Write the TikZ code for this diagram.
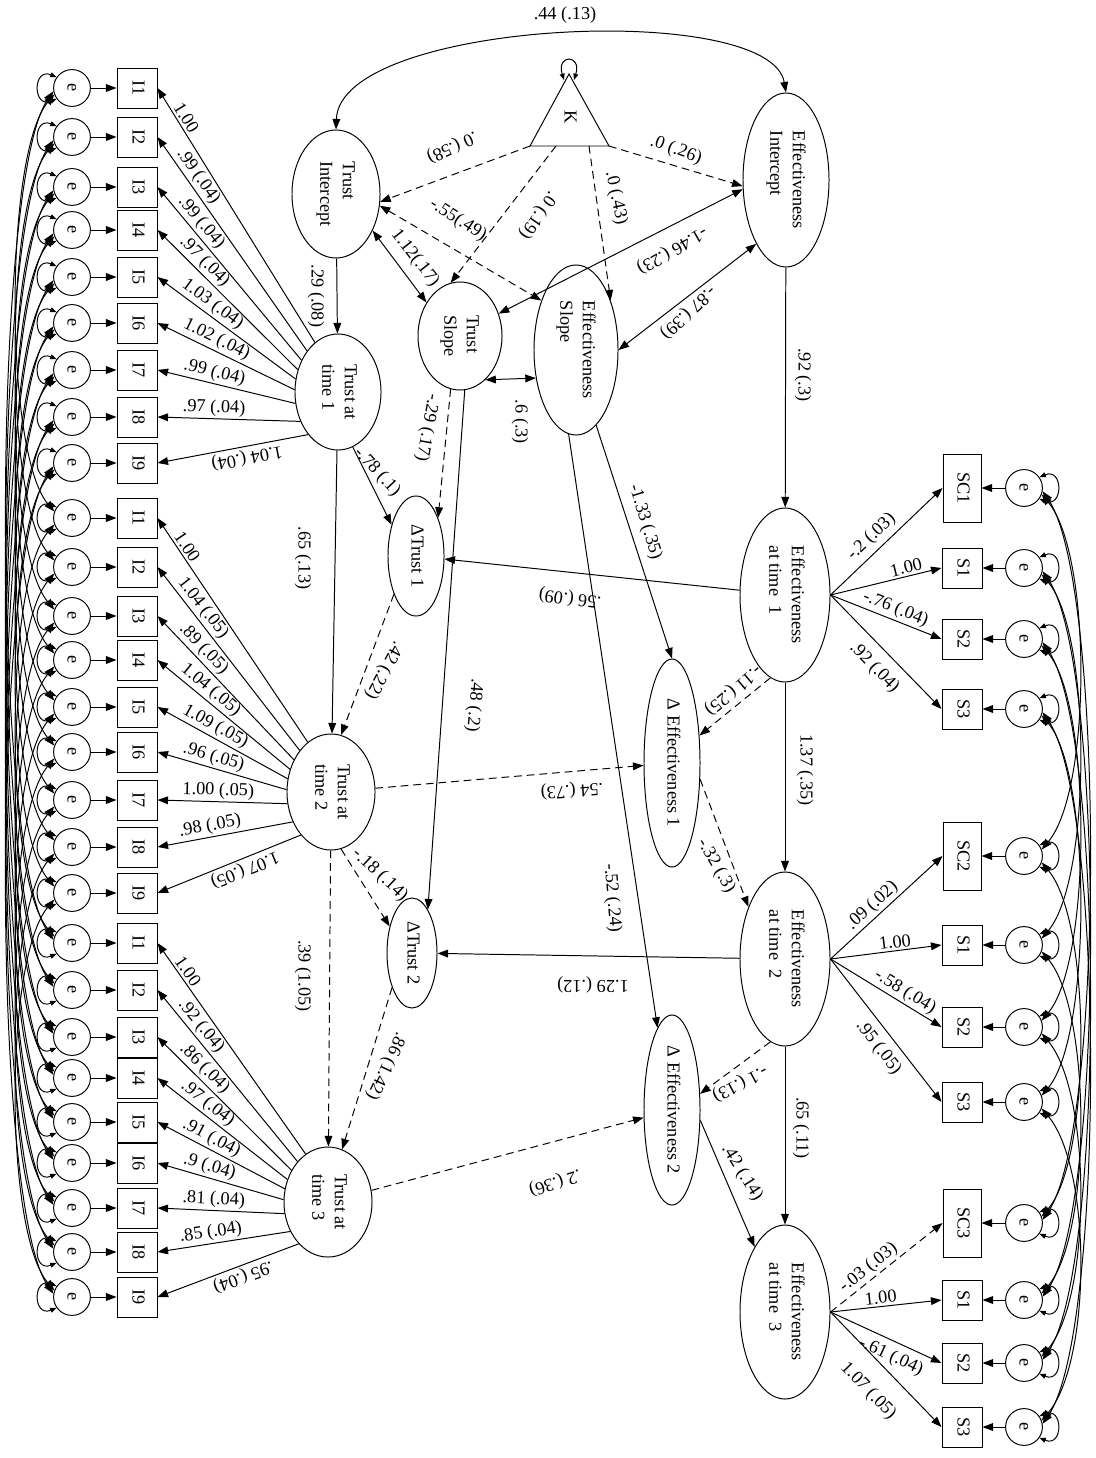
\documentclass[tikz,border=0pt]{standalone}
\usepackage{fontspec}
\setmainfont{Liberation Serif}
\usepackage{graphicx}
\usetikzlibrary{shapes.geometric,arrows.meta}
\newcommand{\dgf}{\fontsize{13}{16}\selectfont}
\newcommand{\rt}[1]{\rotatebox{-90}{\begin{tabular}{@{}l@{}}#1\end{tabular}}}

\begin{document}
\begin{tikzpicture}[x=0.025cm, y=-0.025cm, font=\dgf, line width=0.7pt,
  >={Triangle[length=7.5pt,width=5.5pt]},
  lat/.style={draw, ellipse, inner sep=0pt},
  obs/.style={draw, rectangle, inner sep=0pt, minimum width=1cm, minimum height=1cm},
  err/.style={draw, circle, inner sep=0pt, minimum size=0.92cm},
  lbl/.style={inner sep=1.5pt},
  dsh/.style={dash pattern=on 5.5pt off 3.5pt},
  loopy/.style={>={Triangle[length=4.5pt,width=3.5pt]}, <->}]
  \useasboundingbox (0,0) rectangle (1096,1458);

  % latent variables
  \node[lat, minimum width=2.2cm, minimum height=3.2cm] (ti) at (336,194) {\rt{Trust\\Intercept}};
  \node[lat, minimum width=2.15cm, minimum height=2.9cm] (t1) at (338,392) {\rt{Trust at\\time 1}};
  \node[lat, minimum width=2.2cm, minimum height=2.9cm] (t2) at (331,792) {\rt{Trust at\\time 2}};
  \node[lat, minimum width=2.2cm, minimum height=2.75cm] (t3) at (328,1202) {\rt{Trust at\\time 3}};
  \node[lat, minimum width=2.1cm, minimum height=2.7cm] (ts) at (460,336) {\rt{Trust\\Slope}};
  \node[lat, minimum width=2.1cm, minimum height=4.25cm] (es) at (576,350) {\rt{Effectiveness\\Slope}};
  \node[lat, minimum width=2.15cm, minimum height=4.35cm] (ei) at (786,180) {\rt{Effectiveness\\Intercept}};
  \node[lat, minimum width=2.25cm, minimum height=4.35cm] (f1) at (785,595) {\rt{Effectiveness\\at time~ 1}};
  \node[lat, minimum width=2.25cm, minimum height=4.35cm] (f2) at (785,959) {\rt{Effectiveness\\at time~ 2}};
  \node[lat, minimum width=2.25cm, minimum height=4.35cm] (f3) at (785,1312) {\rt{Effectiveness\\at time~ 3}};
  \node[lat, minimum width=1.4cm, minimum height=3cm] (dt1) at (416,556) {\rt{ΔTrust 1}};
  \node[lat, minimum width=1.25cm, minimum height=2.75cm] (dt2) at (412,953) {\rt{ΔTrust 2}};
  \node[lat, minimum width=1.4cm, minimum height=5.2cm] (de1) at (672,763) {\rt{Δ Effectiveness 1}};
  \node[lat, minimum width=1.4cm, minimum height=4.75cm] (de2) at (672,1110) {\rt{Δ Effectiveness 2}};

  % constant
  \coordinate (ka) at (569,74); \coordinate (kl) at (530,146); \coordinate (kr) at (609,146);
  \coordinate (kb1) at (556,146); \coordinate (kb2) at (589,146);
  \coordinate (ka1) at (564,80); \coordinate (ka2) at (574,80);
  \draw (ka) -- (kl) -- (kr) -- cycle; \node (k) at (569,117) {\rt{K}};
  \draw[loopy] (ka1) .. controls (556,54) and (582,54) .. (ka2);

  % trust items
  \node[err] (e11) at (72,88) {\rt{e}}; \node[obs] (i11) at (137,88) {\rt{I1}};
  \node[err] (e12) at (72,137) {\rt{e}}; \node[obs] (i12) at (137,137) {\rt{I2}};
  \node[err] (e13) at (72,187) {\rt{e}}; \node[obs] (i13) at (137,187) {\rt{I3}};
  \node[err] (e14) at (72,230) {\rt{e}}; \node[obs] (i14) at (137,230) {\rt{I4}};
  \node[err] (e15) at (72,277) {\rt{e}}; \node[obs] (i15) at (137,277) {\rt{I5}};
  \node[err] (e16) at (72,323) {\rt{e}}; \node[obs] (i16) at (137,323) {\rt{I6}};
  \node[err] (e17) at (72,370) {\rt{e}}; \node[obs] (i17) at (137,370) {\rt{I7}};
  \node[err] (e18) at (72,417) {\rt{e}}; \node[obs] (i18) at (137,417) {\rt{I8}};
  \node[err] (e19) at (72,463) {\rt{e}}; \node[obs] (i19) at (137,463) {\rt{I9}};
  \node[err] (e21) at (72,518) {\rt{e}}; \node[obs] (i21) at (137,518) {\rt{I1}};
  \node[err] (e22) at (72,567) {\rt{e}}; \node[obs] (i22) at (137,567) {\rt{I2}};
  \node[err] (e23) at (72,616) {\rt{e}}; \node[obs] (i23) at (137,616) {\rt{I3}};
  \node[err] (e24) at (72,660) {\rt{e}}; \node[obs] (i24) at (137,660) {\rt{I4}};
  \node[err] (e25) at (72,707) {\rt{e}}; \node[obs] (i25) at (137,707) {\rt{I5}};
  \node[err] (e26) at (72,752) {\rt{e}}; \node[obs] (i26) at (137,752) {\rt{I6}};
  \node[err] (e27) at (72,800) {\rt{e}}; \node[obs] (i27) at (137,800) {\rt{I7}};
  \node[err] (e28) at (72,847) {\rt{e}}; \node[obs] (i28) at (137,847) {\rt{I8}};
  \node[err] (e29) at (72,893) {\rt{e}}; \node[obs] (i29) at (137,893) {\rt{I9}};
  \node[err] (e31) at (72,943) {\rt{e}}; \node[obs] (i31) at (137,943) {\rt{I1}};
  \node[err] (e32) at (72,990) {\rt{e}}; \node[obs] (i32) at (137,990) {\rt{I2}};
  \node[err] (e33) at (72,1037) {\rt{e}}; \node[obs] (i33) at (137,1037) {\rt{I3}};
  \node[err] (e34) at (72,1078) {\rt{e}}; \node[obs] (i34) at (137,1078) {\rt{I4}};
  \node[err] (e35) at (72,1122) {\rt{e}}; \node[obs] (i35) at (137,1122) {\rt{I5}};
  \node[err] (e36) at (72,1163) {\rt{e}}; \node[obs] (i36) at (137,1163) {\rt{I6}};
  \node[err] (e37) at (72,1208) {\rt{e}}; \node[obs] (i37) at (137,1208) {\rt{I7}};
  \node[err] (e38) at (72,1252) {\rt{e}}; \node[obs] (i38) at (137,1252) {\rt{I8}};
  \node[err] (e39) at (72,1297) {\rt{e}}; \node[obs] (i39) at (137,1297) {\rt{I9}};

  % effectiveness items
  \node[obs, minimum width=0.95cm, minimum height=1.7cm] (sc1) at (962,488) {\rt{SC1}}; \node[err] (esc1) at (1024,488) {\rt{e}};
  \node[obs] (s11) at (962,568) {\rt{S1}}; \node[err] (es11) at (1024,568) {\rt{e}};
  \node[obs] (s12) at (962,639) {\rt{S2}}; \node[err] (es12) at (1024,639) {\rt{e}};
  \node[obs] (s13) at (962,709) {\rt{S3}}; \node[err] (es13) at (1024,709) {\rt{e}};
  \node[obs, minimum width=0.95cm, minimum height=1.7cm] (sc2) at (962,856) {\rt{SC2}}; \node[err] (esc2) at (1024,856) {\rt{e}};
  \node[obs] (s21) at (962,945) {\rt{S1}}; \node[err] (es21) at (1024,945) {\rt{e}};
  \node[obs] (s22) at (962,1027) {\rt{S2}}; \node[err] (es22) at (1024,1027) {\rt{e}};
  \node[obs] (s23) at (962,1102) {\rt{S3}}; \node[err] (es23) at (1024,1102) {\rt{e}};
  \node[obs, minimum width=0.95cm, minimum height=1.7cm] (sc3) at (962,1223) {\rt{SC3}}; \node[err] (esc3) at (1024,1223) {\rt{e}};
  \node[obs] (s31) at (962,1300) {\rt{S1}}; \node[err] (es31) at (1024,1300) {\rt{e}};
  \node[obs] (s32) at (962,1363) {\rt{S2}}; \node[err] (es32) at (1024,1363) {\rt{e}};
  \node[obs] (s33) at (962,1427) {\rt{S3}}; \node[err] (es33) at (1024,1427) {\rt{e}};

  % residuals into items
  \draw[->] (e11) -- (i11); \draw[->] (e12) -- (i12); \draw[->] (e13) -- (i13); \draw[->] (e14) -- (i14); \draw[->] (e15) -- (i15);
  \draw[->] (e16) -- (i16); \draw[->] (e17) -- (i17); \draw[->] (e18) -- (i18); \draw[->] (e19) -- (i19);
  \draw[->] (e21) -- (i21); \draw[->] (e22) -- (i22); \draw[->] (e23) -- (i23); \draw[->] (e24) -- (i24); \draw[->] (e25) -- (i25);
  \draw[->] (e26) -- (i26); \draw[->] (e27) -- (i27); \draw[->] (e28) -- (i28); \draw[->] (e29) -- (i29);
  \draw[->] (e31) -- (i31); \draw[->] (e32) -- (i32); \draw[->] (e33) -- (i33); \draw[->] (e34) -- (i34); \draw[->] (e35) -- (i35);
  \draw[->] (e36) -- (i36); \draw[->] (e37) -- (i37); \draw[->] (e38) -- (i38); \draw[->] (e39) -- (i39);
  \draw[->] (esc1) -- (sc1); \draw[->] (es11) -- (s11); \draw[->] (es12) -- (s12); \draw[->] (es13) -- (s13);
  \draw[->] (esc2) -- (sc2); \draw[->] (es21) -- (s21); \draw[->] (es22) -- (s22); \draw[->] (es23) -- (s23);
  \draw[->] (esc3) -- (sc3); \draw[->] (es31) -- (s31); \draw[->] (es32) -- (s32); \draw[->] (es33) -- (s33);

  % loadings, trust at time 1
  \draw[<-] (i11.east) -- node[lbl, sloped, pos=.073, anchor=south west] (a11) {1.00} (t1.115);
  \draw[<-] (i12.east) -- node[lbl, sloped, pos=.084, anchor=south west] (a12) {.99 (.04)} (t1.127);
  \draw[<-] (i13.east) -- node[lbl, sloped, pos=.097, anchor=south west] (a13) {.99 (.04)} (t1.139);
  \draw[<-] (i14.east) -- node[lbl, sloped, pos=.111, anchor=south west] (a14) {.97 (.04)} (t1.151);
  \draw[<-] (i15.east) -- node[lbl, sloped, pos=.128, anchor=south west] (a15) {1.03 (.04)} (t1.163);
  \draw[<-] (i16.east) -- node[lbl, sloped, pos=.145, anchor=south west] (a16) {1.02 (.04)} (t1.177);
  \draw[<-] (i17.east) -- node[lbl, sloped, pos=.157, anchor=south west] (a17) {.99 (.04)} (t1.195);
  \draw[<-] (i18.east) -- node[lbl, sloped, pos=.157, anchor=south west] (a18) {.97 (.04)} (t1.218);
  \draw[->] (t1.235) -- node[lbl, sloped, allow upside down, pos=.42, above] (a19) {1.04 (.04)} (i19.east);
  % loadings, trust at time 2
  \draw[<-] (i21.east) -- node[lbl, sloped, pos=.081, anchor=south west] (a21) {1.00} (t2.115);
  \draw[<-] (i22.east) -- node[lbl, sloped, pos=.094, anchor=south west] (a22) {1.04 (.05)} (t2.127);
  \draw[<-] (i23.east) -- node[lbl, sloped, pos=.11, anchor=south west] (a23) {.89 (.05)} (t2.139);
  \draw[<-] (i24.east) -- node[lbl, sloped, pos=.126, anchor=south west] (a24) {1.04 (.05)} (t2.151);
  \draw[<-] (i25.east) -- node[lbl, sloped, pos=.146, anchor=south west] (a25) {1.09 (.05)} (t2.163);
  \draw[<-] (i26.east) -- node[lbl, sloped, pos=.16, anchor=south west] (a26) {.96 (.05)} (t2.177);
  \draw[<-] (i27.east) -- node[lbl, sloped, pos=.17, anchor=south west] (a27) {1.00 (.05)} (t2.195);
  \draw[<-] (i28.east) -- node[lbl, sloped, pos=.158, anchor=south west] (a28) {.98 (.05)} (t2.218);
  \draw[->] (t2.235) -- node[lbl, sloped, allow upside down, pos=.42, above] (a29) {1.07 (.05)} (i29.east);
  % loadings, trust at time 3
  \draw[<-] (i31.east) -- node[lbl, sloped, pos=.085, anchor=south west] (a31) {1.00} (t3.115);
  \draw[<-] (i32.east) -- node[lbl, sloped, pos=.099, anchor=south west] (a32) {.92 (.04)} (t3.127);
  \draw[<-] (i33.east) -- node[lbl, sloped, pos=.115, anchor=south west] (a33) {.86 (.04)} (t3.139);
  \draw[<-] (i34.east) -- node[lbl, sloped, pos=.13, anchor=south west] (a34) {.97 (.04)} (t3.151);
  \draw[<-] (i35.east) -- node[lbl, sloped, pos=.15, anchor=south west] (a35) {.91 (.04)} (t3.163);
  \draw[<-] (i36.east) -- node[lbl, sloped, pos=.167, anchor=south west] (a36) {.9 (.04)} (t3.177);
  \draw[<-] (i37.east) -- node[lbl, sloped, pos=.173, anchor=south west] (a37) {.81 (.04)} (t3.195);
  \draw[<-] (i38.east) -- node[lbl, sloped, pos=.163, anchor=south west] (a38) {.85 (.04)} (t3.218);
  \draw[->] (t3.235) -- node[lbl, sloped, allow upside down, pos=.42, above] (a39) {.95 (.04)} (i39.east);

  % loadings, effectiveness
  \draw[->] (f1.east) -- node[lbl, sloped, pos=.45, above=2pt] (b10) {-.2 (.03)} (sc1.west);
  \draw[->] (f1.east) -- node[lbl, sloped, pos=.7, above] (b11) {1.00} (s11.west);
  \draw[->] (f1.east) -- node[lbl, sloped, pos=.55, above] (b12) {-.76 (.04)} (s12.west);
  \draw[->] (f1.east) -- node[lbl, sloped, pos=.52, below=6pt] (b13) {.92 (.04)} (s13.west);
  \draw[->] (f2.east) -- node[lbl, sloped, pos=.44, above] (b20) {.09 (.02)} (sc2.west);
  \draw[->] (f2.east) -- node[lbl, sloped, pos=.59, above] (b21) {1.00} (s21.west);
  \draw[->] (f2.east) -- node[lbl, sloped, pos=.62, above] (b22) {-.58 (.04)} (s22.west);
  \draw[->] (f2.east) -- node[lbl, sloped, pos=.55, below=4pt] (b23) {.95 (.05)} (s23.west);
  \draw[->, dsh] (f3.east) -- node[lbl, sloped, pos=.4, above] (b30) {-.03 (.03)} (sc3.west);
  \draw[->] (f3.east) -- node[lbl, sloped, pos=.46, above] (b31) {1.00} (s31.west);
  \draw[->] (f3.east) -- node[lbl, sloped, pos=.6, below=3pt] (b32) {-.61 (.04)} (s32.west);
  \draw[->] (f3.east) -- node[lbl, sloped, pos=.52, below=12pt] (b33) {1.07 (.05)} (s33.west);

  % structural paths
  \draw[->] (ti) -- (t1); \draw[->] (t1) -- (t2); \draw[->, dsh] (t2) -- (t3);
  \draw[->] (ei) -- (f1); \draw[->] (f1) -- (f2); \draw[->] (f2) -- (f3);
  \draw[->] (t1.-75) -- (dt1.128);
  \draw[->, dsh] (ts.-100) -- (dt1.60);
  \draw[->] (ts.-85) -- (dt2.70);
  \draw[->, dsh] (dt1.-120) -- (t2.80);
  \draw[->, dsh] (t2.-80) -- (dt2.130);
  \draw[->, dsh] (dt2.-120) -- (t3.75);
  \draw[->] (f1) -- (dt1); \draw[->] (f2) -- (dt2);
  \draw[->, dsh] (t2) -- (de1); \draw[->, dsh] (t3) -- (de2);
  \draw[->, dsh] (f1.-100) -- (de1.45);
  \draw[->, dsh] (de1.-30) -- (f2.125);
  \draw[->, dsh] (f2.-100) -- (de2.30);
  \draw[->] (de2.-20) -- (f3.115);
  \draw[->] (es.-75) -- (de1.north);
  \draw[->] (es.-95) -- (de2.100);
  \draw[->, dsh] (kl) -- (ti.-10);
  \draw[->, dsh] (kb1) -- (ts.100);
  \draw[->, dsh] (kb2) -- (es.55);
  \draw[->, dsh] (kr) -- (ei.188);
  % covariances of growth factors
  \draw[<->, dsh] (ti.-15) -- (es.125);
  \draw[<->] (ti.-45) -- (ts.135);
  \draw[<->] (ei.192) -- (ts.30);
  \draw[<->] (ei.245) -- (es.0);
  \draw[<->] (ts.-60) -- (es.215);
  \draw[<->] (ti.north) .. controls (340,20) and (770,0) .. (ei.north);

  % path labels
  \node[lbl] (l0) at (565,15) {.44 (.13)};
  \node[lbl, rotate=-155] (l1) at (452,147) {.0 (.58)};
  \node[lbl, rotate=-125] (l2) at (538,215) {.0 (.19)};
  \node[lbl, rotate=-78] (l3) at (616,198) {.0 (.43)};
  \node[lbl, rotate=-20] (l4) at (676,150) {.0 (.26)};
  \node[lbl, rotate=-33] (l5) at (458,220) {-.55(.49)};
  \node[lbl, rotate=-52] (l6) at (415,258) {1.12(.17)};
  \node[lbl, rotate=-150] (l7) at (672,250) {-1.46 (.23)};
  \node[lbl, rotate=-137] (l8) at (688,312) {-.87 (.39)};
  \node[lbl, rotate=-90] (l9) at (520,422) {.6 (.3)};
  \node[lbl, rotate=-90] (l10) at (316,296) {.29 (.08)};
  \node[lbl, rotate=-90] (l11) at (303,558) {.65 (.13)};
  \node[lbl, rotate=-90] (l12) at (303,976) {.39 (1.05)};
  \node[lbl, rotate=-90] (l13) at (803,375) {.92 (.3)};
  \node[lbl, rotate=-90] (l14) at (805,770) {1.37 (.35)};
  \node[lbl, rotate=-90] (l15) at (801,1128) {.65 (.11)};
  \node[lbl, rotate=-47] (l16) at (377,472) {-.78 (.1)};
  \node[lbl, rotate=-100] (l17) at (427,428) {-.29 (.17)};
  \node[lbl, rotate=-95] (l18) at (474,705) {.48 (.2)};
  \node[lbl, rotate=-118] (l19) at (384,670) {.42 (.22)};
  \node[lbl, rotate=-43] (l20) at (380,875) {-.18 (.14)};
  \node[lbl, rotate=-115] (l21) at (386,1066) {.86 (1.42)};
  \node[lbl, rotate=173] (l22) at (570,598) {.56 (.09)};
  \node[lbl, rotate=-176] (l23) at (572,790) {.54 (.73)};
  \node[lbl, rotate=180] (l24) at (593,985) {1.29 (.12)};
  \node[lbl, rotate=-162] (l25) at (555,1182) {.2 (.36)};
  \node[lbl, rotate=-73] (l26) at (645,522) {-1.33 (.35)};
  \node[lbl, rotate=-85] (l27) at (612,898) {-.52 (.24)};
  \node[lbl, rotate=-140] (l28) at (733,690) {-.11 (.25)};
  \node[lbl, rotate=-60] (l29) at (716,866) {-.32 (.3)};
  \node[lbl, rotate=-152] (l30) at (740,1083) {-.1 (.13)};
  \node[lbl, rotate=-58] (l31) at (742,1173) {.42 (.14)};

  % residual variances and covariances, trust items
  \draw[loopy] (e11.145) .. controls +(-24,-10) and +(-24,10) .. (e11.215); \draw[loopy] (e12.145) .. controls +(-24,-10) and +(-24,10) .. (e12.215);
  \draw[loopy] (e13.145) .. controls +(-24,-10) and +(-24,10) .. (e13.215); \draw[loopy] (e14.145) .. controls +(-24,-10) and +(-24,10) .. (e14.215);
  \draw[loopy] (e15.145) .. controls +(-24,-10) and +(-24,10) .. (e15.215); \draw[loopy] (e16.145) .. controls +(-24,-10) and +(-24,10) .. (e16.215);
  \draw[loopy] (e17.145) .. controls +(-24,-10) and +(-24,10) .. (e17.215); \draw[loopy] (e18.145) .. controls +(-24,-10) and +(-24,10) .. (e18.215);
  \draw[loopy] (e19.145) .. controls +(-24,-10) and +(-24,10) .. (e19.215); \draw[loopy] (e21.145) .. controls +(-24,-10) and +(-24,10) .. (e21.215);
  \draw[loopy] (e22.145) .. controls +(-24,-10) and +(-24,10) .. (e22.215); \draw[loopy] (e23.145) .. controls +(-24,-10) and +(-24,10) .. (e23.215);
  \draw[loopy] (e24.145) .. controls +(-24,-10) and +(-24,10) .. (e24.215); \draw[loopy] (e25.145) .. controls +(-24,-10) and +(-24,10) .. (e25.215);
  \draw[loopy] (e26.145) .. controls +(-24,-10) and +(-24,10) .. (e26.215); \draw[loopy] (e27.145) .. controls +(-24,-10) and +(-24,10) .. (e27.215);
  \draw[loopy] (e28.145) .. controls +(-24,-10) and +(-24,10) .. (e28.215); \draw[loopy] (e29.145) .. controls +(-24,-10) and +(-24,10) .. (e29.215);
  \draw[loopy] (e31.145) .. controls +(-24,-10) and +(-24,10) .. (e31.215); \draw[loopy] (e32.145) .. controls +(-24,-10) and +(-24,10) .. (e32.215);
  \draw[loopy] (e33.145) .. controls +(-24,-10) and +(-24,10) .. (e33.215); \draw[loopy] (e34.145) .. controls +(-24,-10) and +(-24,10) .. (e34.215);
  \draw[loopy] (e35.145) .. controls +(-24,-10) and +(-24,10) .. (e35.215); \draw[loopy] (e36.145) .. controls +(-24,-10) and +(-24,10) .. (e36.215);
  \draw[loopy] (e37.145) .. controls +(-24,-10) and +(-24,10) .. (e37.215); \draw[loopy] (e38.145) .. controls +(-24,-10) and +(-24,10) .. (e38.215);
  \draw[loopy] (e39.145) .. controls +(-24,-10) and +(-24,10) .. (e39.215);
  \draw[<->] (e11.200) .. controls +(-50,60) and +(-50,-60) .. (e21.160); \draw[<->] (e21.200) .. controls +(-50,60) and +(-50,-60) .. (e31.160); \draw[<->] (e11.190) .. controls +(-62,90) and +(-62,-90) .. (e31.170);
  \draw[<->] (e12.200) .. controls +(-50,60) and +(-50,-60) .. (e22.160); \draw[<->] (e22.200) .. controls +(-50,60) and +(-50,-60) .. (e32.160); \draw[<->] (e12.190) .. controls +(-62,90) and +(-62,-90) .. (e32.170);
  \draw[<->] (e13.200) .. controls +(-50,60) and +(-50,-60) .. (e23.160); \draw[<->] (e23.200) .. controls +(-50,60) and +(-50,-60) .. (e33.160); \draw[<->] (e13.190) .. controls +(-62,90) and +(-62,-90) .. (e33.170);
  \draw[<->] (e14.200) .. controls +(-50,60) and +(-50,-60) .. (e24.160); \draw[<->] (e24.200) .. controls +(-50,60) and +(-50,-60) .. (e34.160); \draw[<->] (e14.190) .. controls +(-62,90) and +(-62,-90) .. (e34.170);
  \draw[<->] (e15.200) .. controls +(-50,60) and +(-50,-60) .. (e25.160); \draw[<->] (e25.200) .. controls +(-50,60) and +(-50,-60) .. (e35.160); \draw[<->] (e15.190) .. controls +(-62,90) and +(-62,-90) .. (e35.170);
  \draw[<->] (e16.200) .. controls +(-50,60) and +(-50,-60) .. (e26.160); \draw[<->] (e26.200) .. controls +(-50,60) and +(-50,-60) .. (e36.160); \draw[<->] (e16.190) .. controls +(-62,90) and +(-62,-90) .. (e36.170);
  \draw[<->] (e17.200) .. controls +(-50,60) and +(-50,-60) .. (e27.160); \draw[<->] (e27.200) .. controls +(-50,60) and +(-50,-60) .. (e37.160); \draw[<->] (e17.190) .. controls +(-62,90) and +(-62,-90) .. (e37.170);
  \draw[<->] (e18.200) .. controls +(-50,60) and +(-50,-60) .. (e28.160); \draw[<->] (e28.200) .. controls +(-50,60) and +(-50,-60) .. (e38.160); \draw[<->] (e18.190) .. controls +(-62,90) and +(-62,-90) .. (e38.170);
  \draw[<->] (e19.200) .. controls +(-50,60) and +(-50,-60) .. (e29.160); \draw[<->] (e29.200) .. controls +(-50,60) and +(-50,-60) .. (e39.160); \draw[<->] (e19.190) .. controls +(-62,90) and +(-62,-90) .. (e39.170);

  % residual variances and covariances, effectiveness items
  \draw[loopy] (esc1.35) .. controls +(24,-10) and +(24,10) .. (esc1.-35); \draw[loopy] (es11.35) .. controls +(24,-10) and +(24,10) .. (es11.-35);
  \draw[loopy] (es12.35) .. controls +(24,-10) and +(24,10) .. (es12.-35); \draw[loopy] (es13.35) .. controls +(24,-10) and +(24,10) .. (es13.-35);
  \draw[loopy] (esc2.35) .. controls +(24,-10) and +(24,10) .. (esc2.-35); \draw[loopy] (es21.35) .. controls +(24,-10) and +(24,10) .. (es21.-35);
  \draw[loopy] (es22.35) .. controls +(24,-10) and +(24,10) .. (es22.-35); \draw[loopy] (es23.35) .. controls +(24,-10) and +(24,10) .. (es23.-35);
  \draw[loopy] (esc3.35) .. controls +(24,-10) and +(24,10) .. (esc3.-35); \draw[loopy] (es31.35) .. controls +(24,-10) and +(24,10) .. (es31.-35);
  \draw[loopy] (es32.35) .. controls +(24,-10) and +(24,10) .. (es32.-35); \draw[loopy] (es33.35) .. controls +(24,-10) and +(24,10) .. (es33.-35);
  \draw[<->] (esc1.-20) .. controls +(50,60) and +(50,-60) .. (esc2.20); \draw[<->] (esc2.-20) .. controls +(50,60) and +(50,-60) .. (esc3.20); \draw[<->] (esc1.-10) .. controls +(62,90) and +(62,-90) .. (esc3.10);
  \draw[<->] (es11.-20) .. controls +(50,60) and +(50,-60) .. (es21.20); \draw[<->] (es21.-20) .. controls +(50,60) and +(50,-60) .. (es31.20); \draw[<->] (es11.-10) .. controls +(62,90) and +(62,-90) .. (es31.10);
  \draw[<->] (es12.-20) .. controls +(50,60) and +(50,-60) .. (es22.20); \draw[<->] (es22.-20) .. controls +(50,60) and +(50,-60) .. (es32.20); \draw[<->] (es12.-10) .. controls +(62,90) and +(62,-90) .. (es32.10);
  \draw[<->] (es13.-20) .. controls +(50,60) and +(50,-60) .. (es23.20); \draw[<->] (es23.-20) .. controls +(50,60) and +(50,-60) .. (es33.20); \draw[<->] (es13.-10) .. controls +(62,90) and +(62,-90) .. (es33.10);
\end{tikzpicture}
\end{document}
